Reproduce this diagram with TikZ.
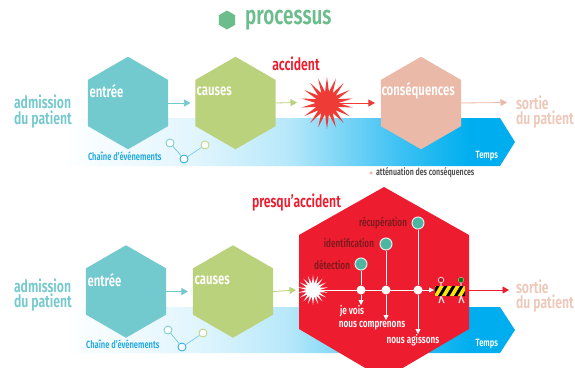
\documentclass[tikz,border=0pt]{standalone}
\usepackage{fontspec}
\setmainfont[FakeStretch=0.72]{Fira Sans SemiBold}
\usetikzlibrary{shapes.geometric,arrows.meta}
\definecolor{tealA}{HTML}{72C9CE}
\definecolor{greenA}{HTML}{BBD27C}
\definecolor{pinkA}{HTML}{EAB9A8}
\definecolor{titleG}{HTML}{6CBD8C}
\definecolor{redA}{HTML}{ED1C2E}
\definecolor{burstR}{HTML}{EF3B36}
\definecolor{darkR}{HTML}{7D1A1E}
\definecolor{cyanA}{HTML}{00AEEF}
\definecolor{chainB}{HTML}{1FA8E0}
\definecolor{dotT}{HTML}{4DB6A0}
\pgfdeclarehorizontalshading{bandshade}{100bp}{
 color(0bp)=(white); color(25bp)=(white);
 color(40bp)=(white!88!cyanA); color(50bp)=(white!72!cyanA);
 color(62bp)=(white!25!cyanA); color(70bp)=(cyanA); color(100bp)=(cyanA)}
\tikzset{
 hexa/.style={regular polygon,regular polygon sides=6,shape border rotate=30,minimum size=92.5pt,inner sep=0pt,outer sep=0pt},
 lab/.style={inner sep=0pt,outer sep=0pt,anchor=west,text=white,font=\fontsize{15.8}{15.8}\selectfont},
 side/.style={inner sep=0pt,outer sep=0pt,anchor=west,align=left,font=\fontsize{17}{15.5}\selectfont},
 rtitle/.style={inner sep=0pt,outer sep=0pt,text=redA,font=\fontsize{17}{17}\selectfont},
 small/.style={inner sep=0pt,outer sep=0pt,font=\fontsize{10.5}{10.5}\selectfont},
 wsmall/.style={inner sep=0pt,outer sep=0pt,text=white,font=\fontsize{11.4}{11.4}\selectfont},
 dsmall/.style={inner sep=0pt,outer sep=0pt,anchor=east,text=darkR,font=\fontsize{11.4}{11.4}\selectfont},
 flow/.style={line width=.8pt,-{Triangle[length=6.5pt,width=7pt]}},
 whiteflow/.style={draw=white,line width=.8pt,-{Triangle[length=5pt,width=5pt]}},
 chain/.style={circle,draw=#1,line width=.8pt,fill=white,minimum size=8pt,inner sep=0pt},
 wdot/.style={circle,fill=white,minimum size=9pt,inner sep=0pt},
 tdot/.style={circle,fill=dotT,draw=white!80!dotT,line width=1pt,minimum size=12pt,inner sep=0pt},
 burst/.style={star,star points=18,star point ratio=2.3,inner sep=0pt,outer sep=0pt,minimum size=#1},
 bandp/.style={shading=bandshade}
}
\begin{document}
\begin{tikzpicture}[x=1pt,y=-1pt]
\useasboundingbox (0,0) rectangle (575,367);
\clip (0,0) rectangle (575,367);
\fill[white] (0,0) rectangle (575,367);
% title
\node[regular polygon,regular polygon sides=6,shape border rotate=30,fill=titleG,minimum size=19pt,inner sep=0pt] (tmark) at (227,20) {};
\node[inner sep=0pt,anchor=west,text=titleG,font=\fontsize{26.3}{26.3}\selectfont] (title) at (245,20) {processus};
% top row
\path[bandp] (60,118) -- (500,118) -- (515,142) -- (500,166) -- (60,166) -- cycle;
\node[hexa,fill=tealA] (e1) at (128,103) {};
\node[hexa,fill=greenA] (c1) at (235.5,103) {};
\node[hexa,fill=pinkA] (q1) at (421,103) {};
\node[lab] (e1t) at (89.5,91) {entrée};
\node[lab] (c1t) at (196.5,91) {causes};
\node[lab] (q1t) at (381.5,91) {conséquences};
\node[burst=52pt,fill=burstR] (b1) at (327,103) {};
\node[rtitle] (acc) at (296,64) {accident};
\coordinate (s1) at (507,102.5);
\coordinate (b1w) at (297,102.5);
\draw[flow,draw=tealA,fill=tealA,shorten >=5pt] (e1.east) -- (c1.west);
\draw[flow,draw=greenA,fill=greenA] (c1.east) -- (b1w);
\draw[flow,draw=burstR,fill=burstR,shorten >=6pt] (b1) -- (q1.west);
\draw[flow,draw=pinkA,fill=pinkA] (q1.east) -- (s1);
\node[side,text=tealA] (a1) at (14,111.5) {admission\\du patient};
\node[side,text=pinkA!80] (o1) at (516,112) {sortie\\du patient};
\node[small,text=chainB,anchor=west] (ch1) at (88,156.5) {Chaîne d'événements};
\node[small,text=white,anchor=east] (tp1) at (498,156.5) {Temps};
\node[chain=tealA] (k1) at (170,143) {};
\node[chain=chainB] (k2) at (184,159) {};
\node[chain=greenA] (k3) at (205,145) {};
\draw[tealA,line width=.7pt] (k1) -- (k2);
\draw[chainB!60,line width=.7pt] (k2) -- (k3);
\node[small,text=black!70,anchor=west,font=\fontsize{9.8}{9.8}\selectfont] (att) at (376,173) {atténuation des conséquences};
\node[circle,fill=pinkA,minimum size=3.5pt,inner sep=0pt] (attd) at (371,173) {};
% bottom row
\path[bandp] (60,307) -- (500,307) -- (515,330) -- (500,353) -- (60,353) -- cycle;
\node[hexa,fill=tealA] (e2) at (126,291.5) {};
\node[hexa,fill=greenA] (c2) at (233,291.5) {};
\fill[redA] (384,187) -- (469,235) -- (469,329) -- (384,379) -- (299,329) -- (299,235) -- cycle;
\coordinate (rw) at (296,290);
\coordinate (re) at (469,290);
\coordinate (s2) at (509,290);
\node[lab] (e2t) at (87.5,280) {entrée};
\node[lab] (c2t) at (194.5,280) {causes};
\node[rtitle] (pres) at (296.5,203) {presqu'accident};
\draw[flow,draw=tealA,fill=tealA,shorten >=5pt] (e2.east) -- (c2.west);
\draw[flow,draw=greenA,fill=greenA] (c2.east) -- (rw);
\node[side,text=tealA] (a2) at (14,295) {admission\\du patient};
\node[side,text=pinkA!80] (o2) at (516,296) {sortie\\du patient};
\node[small,text=chainB,anchor=west] (ch2) at (86,344) {Chaîne d'événements};
\node[small,text=white,anchor=east] (tp2) at (498,344) {Temps};
\node[chain=tealA] (m1) at (168,330) {};
\node[chain=chainB] (m2) at (182,347) {};
\node[chain=greenA] (m3) at (203,333) {};
\draw[tealA,line width=.7pt] (m1) -- (m2);
\draw[chainB!60,line width=.7pt] (m2) -- (m3);
% inside red hexagon
\node[burst=30pt,fill=white] (b2) at (313,290) {};
\node[wdot] (w1) at (361,290) {};
\node[wdot] (w2) at (386,290) {};
\node[wdot] (w3) at (418,290) {};
\node[tdot] (t1) at (361,264) {};
\node[tdot] (t2) at (386,244) {};
\node[tdot] (t3) at (418,223) {};
\coordinate (d1) at (361,305);
\coordinate (d2) at (386,320);
\coordinate (d3) at (418,334);
\coordinate (bar) at (434,290);
\draw[draw=white,line width=.8pt] (t1) -- (w1);
\draw[draw=white,line width=.8pt] (t2) -- (w2);
\draw[draw=white,line width=.8pt] (t3) -- (w3);
\draw[whiteflow,fill=white] (w1) -- (d1);
\draw[whiteflow,fill=white] (w2) -- (d2);
\draw[whiteflow,fill=white] (w3) -- (d3);
\draw[whiteflow,fill=white] (b2) -- (bar);
\node[dsmall] (l1) at (350,265) {détection};
\node[dsmall] (l2) at (374,243.5) {identification};
\node[dsmall] (l3) at (407,223) {récupération};
\node[wsmall] (j1) at (352,311) {je vois};
\node[wsmall] (j2) at (372,326) {nous comprenons};
\node[wsmall] (j3) at (413,340) {nous agissons};
% barrier
\draw[white!85!black,line width=1.3pt] (441,283) -- (441,286) (441,296) -- (439,303) (441,296) -- (444,303);
\draw[white!85!black,line width=1.3pt] (461,283) -- (461,286) (461,296) -- (459,303) (461,296) -- (464,303);
\fill[redA!80!black] (441,280) circle (2.4pt);
\draw[white,line width=.6pt] (441,280) circle (2.8pt);
\fill[green!50!black] (461,280) circle (2.6pt);
\draw[white!70!black,line width=.5pt] (461,280) circle (2.8pt);
\begin{scope}
\clip (435,286) rectangle (465,296);
\fill[yellow!90!orange] (435,286) rectangle (465,296);
\foreach \sx in {430,438,446,454,462}{
 \fill[black] (\sx,296) -- (\sx+3.5,296) -- (\sx+9.5,286) -- (\sx+6,286) -- cycle;}
\end{scope}
\coordinate (bare) at (465,290);
\draw[flow,draw=redA,fill=redA] (bare) -- (s2);
\end{tikzpicture}
\end{document}
